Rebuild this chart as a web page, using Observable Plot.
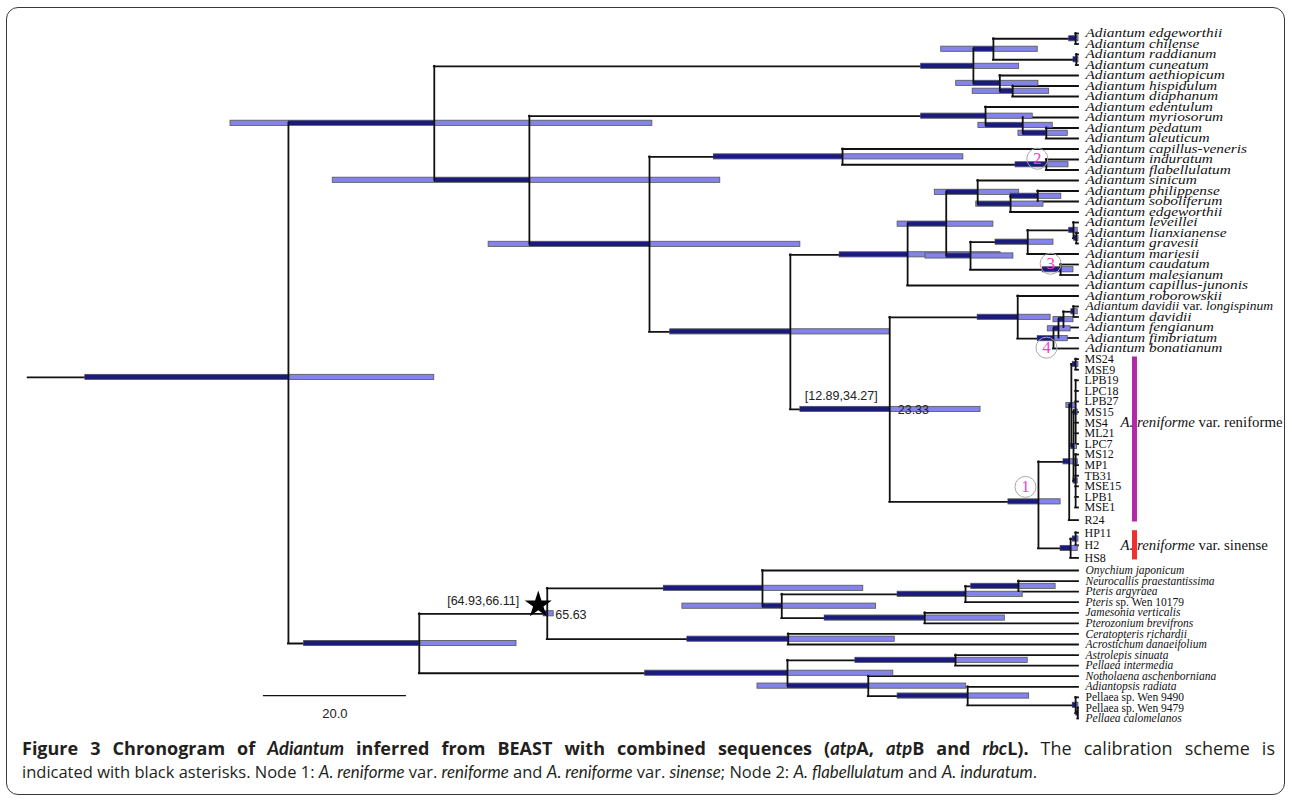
<!DOCTYPE html>
<html><head><meta charset="utf-8">
<script src="https://cdn.jsdelivr.net/npm/d3@7"></script>
<script src="https://cdn.jsdelivr.net/npm/@observablehq/plot@0.6"></script>
<style>
body{margin:0;background:#fff;width:1292px;height:801px;position:relative;overflow:hidden}
#chart{position:absolute;left:0;top:0}
#frame{position:absolute;left:6px;top:7px;width:1277px;height:786px;border:1.5px solid #3a3a3a;border-radius:12px;pointer-events:none}
#caption{position:absolute;left:22px;top:737px;width:1253px;font-family:"Open Sans";color:#231f20;white-space:nowrap}
#cap1{font-size:18px;line-height:23px;text-align:justify;text-align-last:justify;white-space:normal}
#cap2{font-size:16.5px;line-height:24px}
#caption i{font-family:Lato;font-size:1.02em}
</style></head><body>
<div id="chart"></div>
<div id="caption">
<div id="cap1"><b>Figure 3 Chronogram of <i>Adiantum</i> inferred from BEAST with combined sequences (<i>atp</i>A, <i>atp</i>B and <i>rbc</i>L).</b> The calibration scheme is</div>
<div id="cap2">indicated with black asterisks. Node 1: <i>A. reniforme</i> var. <i>reniforme</i> and <i>A. reniforme</i> var. <i>sinense</i>; Node 2: <i>A. flabellulatum</i> and <i>A. induratum</i>.</div>
</div>
<div id="frame"></div>
<script>
// ---------------- DATA ----------------
// tips, top to bottom: [label, parent node]
const tips = [
["Adiantum edgeworthii","nIa"],["Adiantum chilense","nIa"],["Adiantum raddianum","nIb"],["Adiantum cuneatum","nIb"],
["Adiantum aethiopicum","nI2"],["Adiantum hispidulum","nI2a"],["Adiantum diaphanum","nI2a"],
["Adiantum edentulum","nII"],["Adiantum myriosorum","nII2"],["Adiantum pedatum","nII3"],["Adiantum aleuticum","nII3"],
["Adiantum capillus-veneris","nIII"],["Adiantum induratum","nIII2"],["Adiantum flabellulatum","nIII2"],
["Adiantum sinicum","nH2"],["Adiantum philippense","nH2b"],["Adiantum soboliferum","nH2b"],["Adiantum edgeworthii","nH2a"],
["Adiantum leveillei","nH5"],["Adiantum lianxianense","nH5b"],["Adiantum gravesii","nH5b"],["Adiantum mariesii","nH4"],
["Adiantum caudatum","nH6"],["Adiantum malesianum","nH6"],["Adiantum capillus-junonis","nH"],
["Adiantum roborowskii","nV"],["Adiantum davidii var. longispinum","nV4"],["Adiantum davidii","nV4"],
["Adiantum fengianum","nV3"],["Adiantum fimbriatum","nV2"],["Adiantum bonatianum","nV1"],
["MS24","nG2a"],["MSE9","nG2a"],["LPB19","nG4"],["LPC18","nG4"],["LPB27","nG4"],["MS15","nG4"],["MS4","nG4"],
["ML21","nG4"],["LPC7","nG4"],["MS12","nG5"],["MP1","nG5"],["TB31","nG5"],["MSE15","nG5"],["LPB1","nG5"],["MSE1","nG5"],
["R24","nG1"],["HP11","nG6a"],["H2","nG6a"],["HS8","nG6"],
["Onychium japonicum","nP1"],["Neurocallis praestantissima","nP3a"],["Pteris argyraea","nP3a"],["Pteris sp. Wen 10179","nP3"],
["Jamesonia verticalis","nP4"],["Pterozonium brevifrons","nP4"],["Ceratopteris richardii","nP5"],["Acrostichum danaeifolium","nP5"],
["Astrolepis sinuata","nQ1"],["Pellaea intermedia","nQ1"],["Notholaena aschenborniana","nR2"],["Adiantopsis radiata","nR3"],
["Pellaea sp. Wen 9490","nR4"],["Pellaea sp. Wen 9479","nR4b"],["Pellaea calomelanos","nR4b"]
];
const sampleTips = ["MS24","MSE9","LPB19","LPC18","LPB27","MS15","MS4","ML21","LPC7","MS12","MP1","TB31","MSE15","LPB1","MSE1","R24","HP11","H2","HS8"];
const uprightTips = ["Pellaea sp. Wen 9490","Pellaea sp. Wen 9479"];
const romanWords = ["var.","sp.","Wen","10179"];
// internal nodes: [id, parent, age (Myr), HPD old, HPD young]
const nodes = [
["root",null,110.5,138.9,90.1],["nB","root",90.1,118.6,59.6],["nC","nB",76.8,104.3,50.1],
["nI","nB",14.7,22.0,8.3],["nI1","nI",11.9,19.2,5.7],["nIa","nI1",0.4,1.3,0.0],["nIb","nI1",0.3,0.7,0.0],
["nI2","nI",11.0,17.1,5.6],["nI2a","nI2",9.2,14.8,4.1],
["nII","nC",13.0,22.0,6.4],["nII2","nII",7.8,14.0,3.6],["nII3","nII2",4.5,8.4,1.5],
["nD","nC",60.0,82.5,38.9],["nIII","nD",33.0,51.0,16.1],["nIII2","nIII",4.5,8.8,1.4],
["nE","nD",40.3,57.1,26.4],["nH","nE",23.9,33.4,10.9],["nH1","nH",18.5,25.3,11.9],
["nH2","nH1",14.1,20.1,8.3],["nH2a","nH2",9.5,14.3,4.9],["nH2b","nH2a",5.7,9.5,2.4],
["nH3","nH1",15.1,21.4,9.1],["nH4","nH3",7.1,11.6,3.5],["nH5","nH4",0.7,1.3,0.1],["nH5b","nH5",0.3,0.6,0.0],
["nH6","nH3",2.5,5.0,0.7],
["nF","nE",26.4,38.9,13.7],["nV","nF",8.5,14.1,3.9],["nV1","nV",3.5,5.7,1.5],["nV2","nV1",2.8,4.3,1.1],
["nV3","nV2",2.1,3.5,0.7],["nV4","nV3",0.7,1.0,0.1],
["nG","nF",5.6,9.8,2.5],["nG1","nG",1.3,2.1,0.1],["nG2","nG1",1.0,1.7,0.4],["nG2a","nG2",0.4,0.8,0.0],
["nG3","nG2",0.7,1.2,0.2],["nG4","nG3",0.4,0.7,0.1],["nG5","nG3",0.4,0.7,0.1],
["nG6","nG",1.1,2.5,0.1],["nG6a","nG6",0.4,0.8,0.0],
["nO","root",92.2,108.3,78.6],["nP","nO",74.3,74.8,73.4],["nP1","nP",44.2,58.0,30.1],["nP2","nP1",41.5,55.4,28.3],
["nP3","nP2",15.8,25.3,7.8],["nP3a","nP3",8.4,15.0,3.2],["nP4","nP2",21.5,35.5,10.3],["nP5","nP",40.6,54.7,25.7],
["nQ","nO",40.7,60.6,25.9],["nQ1","nQ",17.2,31.2,7.1],["nR2","nQ",29.4,44.9,15.7],["nR3","nR2",15.5,25.3,6.9],
["nR4","nR3",0.4,0.8,0.0],["nR4b","nR4",0.1,0.3,0.0]
];
const rootStemAge = 146.9;
const annotNodes = ["nF","nP"];
const annotHpd = ["[12.89,34.27]","[64.93,66.11]"];
const annotAge = ["23.33","65.63"];
const calibNode = "nP";
const circleNodes = ["nG","nIII2","nH6","nV1"];
const circleNums = ["1","2","3","4"];
const cladeNames = ["A. reniforme var. reniforme","A. reniforme var. sinense"];
const cladeFirstTip = [31,47];
const cladeLastTip = [46,49];
const cladeLabelTip = [37,48];
const cladeColors = ["#b02aa8","#f0302e"];
const scaleBarStart = 114.0, scaleBarLength = 20, scaleBarLabel = "20.0";

// ---------------- TREE LAYOUT ----------------
const nodeMap = new Map(nodes.map(([id,parent,age,lo,hi]) => [id,{id,parent,age,lo,hi,kids:[]}]));
tips.forEach(([name,p],i) => nodeMap.get(p).kids.push({tip:true,i}));
nodes.forEach(([id,p]) => { if (p) nodeMap.get(p).kids.push({tip:false,id}); });
function layY(id){
  const n = nodeMap.get(id);
  if (n.y !== undefined) return n.y;
  const ys = n.kids.map(k => k.tip ? k.i : layY(k.id));
  n.ymin = d3.min(ys); n.ymax = d3.max(ys); n.y = (n.ymin + n.ymax)/2;
  return n.y;
}
layY("root");
const ageOf = id => nodeMap.get(id).age;
const hSegs = [], vSegs = [], bars = [], darks = [];
tips.forEach(([name,p],i) => hSegs.push({y:i, x1:ageOf(p), x2:0}));
for (const n of nodeMap.values()) {
  const pAge = n.parent ? ageOf(n.parent) : rootStemAge;
  hSegs.push({y:n.y, x1:pAge, x2:n.age});
  vSegs.push({x:n.age, y1:n.ymin, y2:n.ymax});
  bars.push({y:n.y, x1:n.lo, x2:n.hi});
  if (n.lo > n.age) darks.push({y:n.y, x1:Math.min(n.lo,pAge), x2:n.age});
}
const tipData = tips.map(([name],i) => ({name,i}));
const adiantumTips = tipData.filter(d => d.i <= 30);
const outTips = tipData.filter(d => d.i >= 50 && !uprightTips.includes(d.name));
const sampleData = tipData.filter(d => sampleTips.includes(d.name));
const uprightData = tipData.filter(d => uprightTips.includes(d.name));
const annot = annotNodes.map((id,k) => ({x:ageOf(id), y:nodeMap.get(id).y, hpd:annotHpd[k], age:annotAge[k]}));
const circOff = [[-13,-15],[-9,-6],[-10,-6],[-7,9]];
const circles = circleNodes.map((id,k) => ({x:ageOf(id), y:nodeMap.get(id).y, t:circleNums[k], dx:circOff[k][0], dy:circOff[k][1]}));
const cladeX = -7.83;
const clades = cladeNames.map((t,k) => ({t, y1:cladeFirstTip[k], y2:cladeLastTip[k], y:cladeLabelTip[k], c:cladeColors[k]}));
const scaleY = 61.83;

const serif = "Liberation Serif, Times New Roman, serif";
const sans = "Liberation Sans, Arial, sans-serif";
const chart = Plot.plot({
  width: 1292, height: 740,
  marginTop: 0, marginBottom: 0, marginLeft: 0, marginRight: 0,
  style: {background: "transparent", overflow: "visible"},
  x: {type: "linear", domain: [150.77, -29.93], range: [0, 1292], axis: null},
  y: {type: "linear", domain: [0, 30, 45, 50, 64], range: [33, 348, 507, 570, 718], axis: null},
  marks: [
    Plot.ruleY(hSegs, {y: "y", x1: "x1", x2: "x2", stroke: "#111", strokeWidth: 1.8, strokeLinecap: "square"}),
    Plot.rect(bars, {x1: "x1", x2: "x2", y1: "y", y2: "y", insetTop: -2.6, insetBottom: -2.6, fill: "#8383ea", stroke: "#555", strokeWidth: 0.8}),
    Plot.rect(darks, {x1: "x1", x2: "x2", y1: "y", y2: "y", insetTop: -2.2, insetBottom: -2.2, fill: "#1b1b7e"}),
    Plot.ruleX(vSegs, {x: "x", y1: "y1", y2: "y2", stroke: "#111", strokeWidth: 1.8, strokeLinecap: "square"}),
    Plot.text(adiantumTips, {x: 0, y: "i", text: "name", dx: 7, textAnchor: "start", fontFamily: serif, fontSize: 12, fontStyle: "italic", fill: "#111"}),
    Plot.text(outTips, {x: 0, y: "i", text: "name", dx: 7, textAnchor: "start", fontFamily: serif, fontSize: 11.5, fontStyle: "italic", fill: "#111"}),
    Plot.text(uprightData, {x: 0, y: "i", text: "name", dx: 7, textAnchor: "start", fontFamily: serif, fontSize: 11.5, fill: "#111"}),
    Plot.text(sampleData, {x: 0, y: "i", text: "name", dx: 6, textAnchor: "start", fontFamily: serif, fontSize: 12, fill: "#111"}),
    Plot.text(clades, {x: cladeX, y: "y", text: "t", dx: -14, textAnchor: "start", fontFamily: serif, fontSize: 14, fontStyle: "italic", fill: "#111"}),
    Plot.ruleX(clades, {x: cladeX, y1: "y1", y2: "y2", stroke: "c", strokeWidth: 5, insetTop: -2, insetBottom: -2}),
    Plot.text(annot, {x: "x", y: "y", text: "hpd", dx: -12, dy: -13, textAnchor: "end", fontFamily: sans, fontSize: 12.5, fill: "#222"}),
    Plot.text(annot, {x: "x", y: "y", text: "age", dx: 8, dy: 1, textAnchor: "start", fontFamily: sans, fontSize: 12.5, fill: "#222"}),
    Plot.dot([nodeMap.get(calibNode)], {x: "age", y: "y", symbol: "star", r: 8.5, fill: "#000", dx: -9, dy: -9}),
    Plot.dot(circles, {x: "x", y: "y", r: 10.5, stroke: "#aaa", strokeWidth: 1, fill: "none"}),
    Plot.text(circles, {x: "x", y: "y", text: "t", fontFamily: serif, fontSize: 17, fill: "#f03fd0"}),
    Plot.ruleY([scaleY], {x1: scaleBarStart, x2: scaleBarStart - scaleBarLength, stroke: "#111", strokeWidth: 1.3}),
    Plot.text([scaleBarLabel], {x: scaleBarStart - scaleBarLength/2, y: scaleY, text: d => d, dy: 18, fontFamily: sans, fontSize: 13, fill: "#222"})
  ]
});
document.getElementById("chart").appendChild(chart);

const svg = d3.select(chart);
const adiSet = new Set(adiantumTips.map(d => d.name));
const outSet = new Set(outTips.map(d => d.name));
const cladeSet = new Set(cladeNames);
const circleSet = new Set(circleNums);
// horizontal stretch helper (keeps the anchor point)
function stretch(el, sx){
  const tr = el.getAttribute("transform");
  if (tr && tr.includes("translate")) { el.setAttribute("transform", tr + ` scale(${sx},1)`); return; }
  const x = +(el.getAttribute("x") || 0), y = +(el.getAttribute("y") || 0);
  el.removeAttribute("x"); el.removeAttribute("y");
  el.setAttribute("transform", `${tr || ""} translate(${x},${y}) scale(${sx},1)`);
}
svg.selectAll("text").each(function(){
  const t = this.textContent;
  let words = null, roman = null, sx = 1;
  if (adiSet.has(t) || outSet.has(t)) {
    words = t.split(" "); roman = w => romanWords.includes(w);
    if (adiSet.has(t)) sx = t.includes("var.") ? 1.13 : 1.28;
  }
  else if (cladeSet.has(t)) { words = t.split(" "); const v = words.indexOf("var."); roman = (w,k) => k >= v; sx = 1.06; }
  if (t === annotHpd[1]) { this.setAttribute("dx", "-16"); }
  if (!words) return;
  this.textContent = "";
  words.forEach((w,k) => {
    const ts = document.createElementNS("http://www.w3.org/2000/svg","tspan");
    ts.textContent = w + (k < words.length-1 ? " " : "");
    ts.setAttribute("font-style", roman(w,k) ? "normal" : "italic");
    this.appendChild(ts);
  });
  if (sx !== 1) stretch(this, sx);
});
// per-circle offsets (circles and their numbers)
const circleEls = svg.selectAll("circle").nodes().filter(c => c.getAttribute("r") === "10.5");
circleEls.forEach((c,k) => { if (circles[k]) c.setAttribute("transform", `translate(${circles[k].dx},${circles[k].dy})`); });
svg.selectAll("text").nodes().filter(n => circleSet.has(n.textContent)).forEach(n => {
  const k = circleNums.indexOf(n.textContent);
  const prev = n.getAttribute("transform") || "";
  n.setAttribute("transform", `${prev} translate(${circles[k].dx},${circles[k].dy})`);
});
</script>
</body></html>
